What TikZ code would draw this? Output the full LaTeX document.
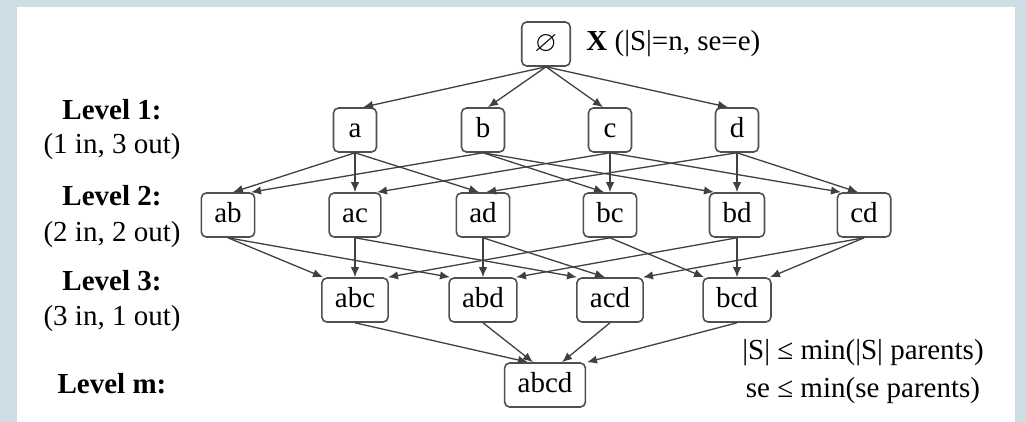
\documentclass[tikz,border=0pt]{standalone}
\usepackage{amssymb}
\usepackage{fontspec}
\setmainfont{Liberation Serif}
\usetikzlibrary{arrows.meta}
\definecolor{framecol}{RGB}{205,222,229}
\definecolor{boxcol}{RGB}{80,80,80}
\definecolor{edgecol}{RGB}{64,64,64}
\tikzset{
  setbox/.style={draw=boxcol, fill=white, rounded corners=2.5pt, line width=0.8pt,
    minimum width=21.5pt, minimum height=22pt, inner xsep=6.5pt, inner ysep=0pt,
    text height=9.6pt, text depth=2.4pt,
    font=\fontsize{14.5}{17}\selectfont},
  lbl/.style={font=\fontsize{14.5}{17}\selectfont, inner sep=0pt},
  edge/.style={draw=edgecol, line width=0.65pt, -{Latex[length=5pt,width=4.2pt]}}
}
\begin{document}
\begin{tikzpicture}[x=0.5pt,y=-0.5pt]
\fill[framecol] (0,0) rectangle (1026,422);
\fill[white] (17,7) rectangle (1015,422);
% nodes
\node[setbox] (e) at (546,44) {$\varnothing$};
\node[lbl, anchor=west] (X) at (586,44) {\textbf{X} (|S|=n, se=e)};
\node[setbox] (a) at (355,130) {a};
\node[setbox] (b) at (483,130) {b};
\node[setbox] (c) at (610,130) {c};
\node[setbox] (d) at (737,130) {d};
\node[setbox] (ab) at (228,215) {ab};
\node[setbox] (ac) at (355,215) {ac};
\node[setbox] (ad) at (483,215) {ad};
\node[setbox] (bc) at (610,215) {bc};
\node[setbox] (bd) at (737,215) {bd};
\node[setbox] (cd) at (864,215) {cd};
\node[setbox] (abc) at (355,300) {abc};
\node[setbox] (abd) at (483,300) {abd};
\node[setbox] (acd) at (610,300) {acd};
\node[setbox] (bcd) at (737,300) {bcd};
\node[setbox] (abcd) at (545,385) {abcd};
% level labels
\node[lbl] (l1) at (112,110) {\textbf{Level 1:}};
\node[lbl] (l1b) at (112,147) {(1 in, 3 out)};
\node[lbl] (l2) at (112,196) {\textbf{Level 2:}};
\node[lbl] (l2b) at (112,235) {(2 in, 2 out)};
\node[lbl] (l3) at (112,281) {\textbf{Level 3:}};
\node[lbl] (l3b) at (112,319) {(3 in, 1 out)};
\node[lbl] (lm) at (112,384) {\textbf{Level m:}};
\node[lbl, align=center] (note) at (863,372) {|S| ≤ min(|S| parents)\\[2pt] se ≤ min(se parents)};
% edges (offset of arrow tip on the child's top edge, in px)
\foreach \s/\t/\o in {e/a/8,e/b/5,e/c/-7,e/d/-9,
  a/ab/5,b/ab/23, a/ac/0,c/ac/22, a/ad/-4,d/ad/3,
  b/bc/-6,c/bc/0, b/bd/-23,d/bd/0, c/cd/-23,d/cd/-6,
  ab/abc/-32,ac/abc/0,bc/abc/33,
  ab/abd/-33,ad/abd/0,bd/abd/33,
  ac/acd/-33,ad/acd/-5,cd/acd/33,
  bc/bcd/-33,bd/bcd/0,cd/bcd/33,
  abc/abcd/-17,abd/abcd/-12,acd/abcd/17,bcd/abcd/42}
  \draw[edge] (\s.south) -- ([xshift=\o*0.5pt]\t.north);
\end{tikzpicture}
\end{document}
